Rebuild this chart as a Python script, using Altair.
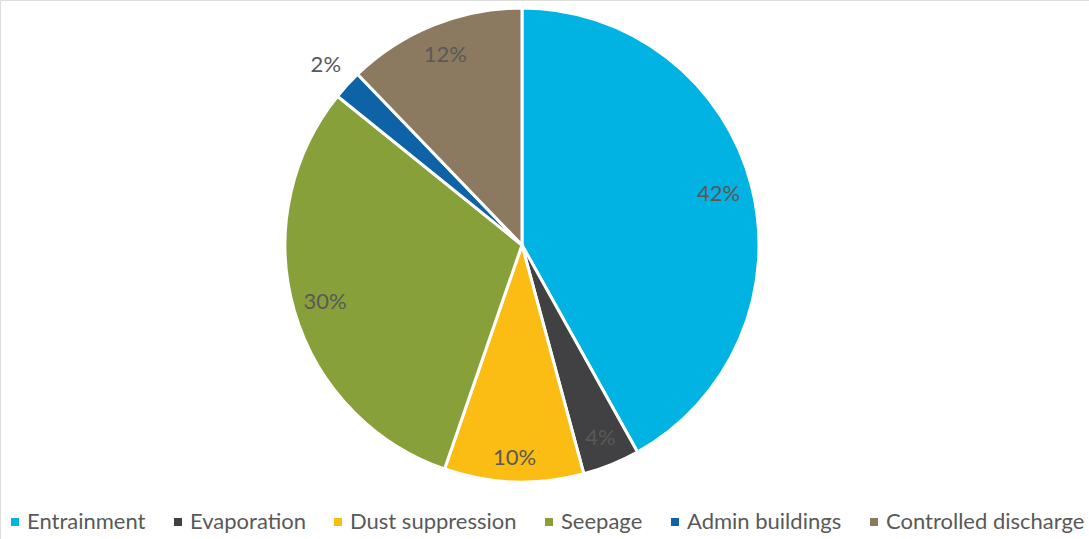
import altair as alt
import pandas as pd

categories = ["Entrainment", "Evaporation", "Dust suppression", "Seepage", "Admin buildings", "Controlled discharge"]
values = [41.9, 3.9, 9.5, 30.5, 2.0, 12.2]
labels = ["42%", "4%", "10%", "30%", "2%", "12%"]
colors = ["#00B3E3", "#414042", "#FBBC13", "#88A03A", "#0D63A5", "#8B7A5F"]
label_radius = [203, 208, 213, 205, 266, 205]

df = pd.DataFrame({
    "category": categories,
    "value": values,
    "label": labels,
    "order": list(range(len(categories))),
    "lr": label_radius,
})

CX, CY, R = 522, 245, 237

arcs = alt.Chart(df).mark_arc(outerRadius=R, stroke="white", strokeWidth=3).encode(
    theta=alt.Theta("value:Q", stack=True),
    order=alt.Order("order:Q"),
    x=alt.value(CX),
    y=alt.value(CY),
    color=alt.Color(
        "category:N",
        scale=alt.Scale(domain=categories, range=colors),
        sort=categories,
        legend=alt.Legend(
            title=None,
            orient="none",
            direction="horizontal",
            legendX=4,
            legendY=511,
            symbolType="square",
            symbolSize=64,
            symbolStrokeWidth=0,
            labelFont="Lato",
            labelFontSize=22,
            labelColor="#595959",
            labelOffset=1,
            columnPadding=21,
            labelLimit=400,
        ),
    ),
)

texts = alt.Chart(df).transform_joinaggregate(
    total="sum(value)"
).transform_window(
    cum="sum(value)", sort=[alt.SortField("order", order="ascending")],
    frame=[None, 0]
).transform_calculate(
    mid="(datum.cum - datum.value / 2) / datum.total * 2 * PI"
).mark_text(font="Lato", fontSize=22, color="#595959").encode(
    theta=alt.Theta("mid:Q", scale=None),
    x=alt.value(CX),
    y=alt.value(CY),
    radius=alt.Radius("lr:Q", scale=None),
    text="label:N",
)

chart = alt.layer(arcs, texts).resolve_scale(theta="independent").properties(
    width=1089, height=539, padding=0,
    autosize=alt.AutoSizeParams(type="none"),
).configure_view(stroke=None).configure(background="white")

chart.save("out.html", embed_options={"renderer": "svg", "actions": False})
